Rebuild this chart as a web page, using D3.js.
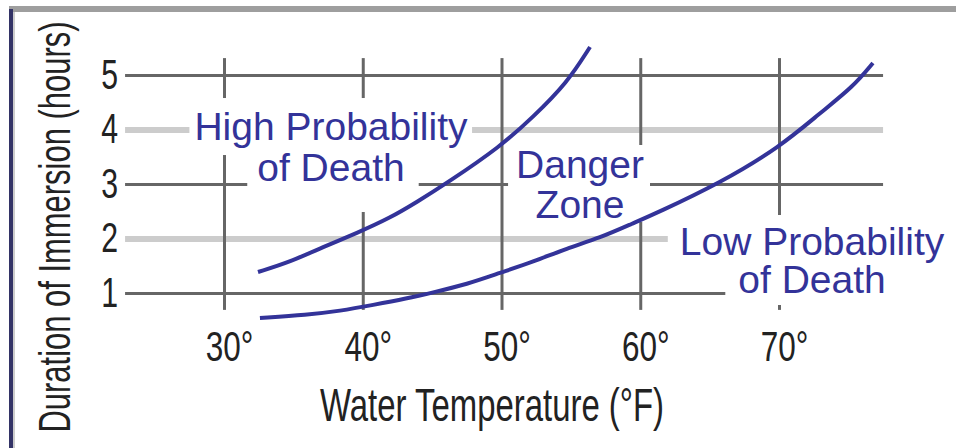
<!DOCTYPE html>
<meta charset="utf-8">
<script src="https://d3js.org/d3.v7.min.js"></script>
<style>
  body { margin: 0; background: #fff; }
  svg { display: block; font-family: "Liberation Sans", Arial, sans-serif; }
</style>
<div id="chart"></div>
<script>
  // values (temperature in °F, duration in hours)
  var xTicks = [30, 40, 50, 60, 70];
  var yTicks = [1, 2, 3, 4, 5];

  var highTemp = [32.45, 34.76, 37.14, 39.59, 41.96, 43.91, 46.07, 49.89, 52.27, 54.72, 56.38];
  var highHours = [1.385, 1.569, 1.844, 2.101, 2.376, 2.670, 3.018, 3.679, 4.229, 4.853, 5.514];

  var lowTemp = [32.59, 35.98, 38.36, 40.74, 43.19, 45.06, 47.51, 49.89, 52.27, 54.72, 57.09, 59.48, 61.21, 65.75, 70.07, 72.96, 75.33, 76.77];
  var lowHours = [0.541, 0.60, 0.67, 0.78, 0.90, 1.01, 1.16, 1.37, 1.57, 1.82, 2.01, 2.28, 2.47, 3.018, 3.679, 4.303, 4.780, 5.220];

  var width = 956, height = 448;
  var navy = "#333399";

  var svg = d3.select("#chart")
    .append("svg")
      .attr("width", width)
      .attr("height", height);

  var x = d3.scaleLinear().domain([30, 70]).range([224, 779]);
  var y = d3.scaleLinear().domain([1, 5]).range([293, 75]);

  // extent of the grid frame, in data units
  var tLeft = 22.87, tRight = 77.5, hBottom = 0.69, hTop = 5.31;

  // border
  svg.append("rect").attr("x", 9).attr("y", 6).attr("width", width - 9).attr("height", 6).attr("fill", "#9e9e9e");
  svg.append("rect").attr("x", 9).attr("y", 9).attr("width", 4).attr("height", height - 9).attr("fill", "#333366");
  svg.append("rect").attr("x", 13).attr("y", 12).attr("width", 2).attr("height", height - 12).attr("fill", "#cccccc");

  // squeeze text horizontally, the original uses a condensed face
  function condense(sel, k) {
    sel.each(function() {
      var w = this.getComputedTextLength();
      d3.select(this).attr("textLength", w * k).attr("lengthAdjust", "spacingAndGlyphs");
    });
  }

  // Y axis = horizontal grid lines
  var yAxis = svg.append("g")
    .attr("transform", "translate(" + x(tLeft) + ",0)")
    .call(d3.axisLeft(y)
      .tickValues(yTicks)
      .tickSize(-(x(tRight) - x(tLeft)))
      .tickPadding(7)
      .tickFormat(d3.format("d")));
  yAxis.select(".domain").remove();
  yAxis.selectAll(".tick line")
    .attr("stroke", function(d) { return d % 2 ? "#666666" : "#cccccc"; })
    .attr("stroke-width", function(d) { return d % 2 ? 3 : 6; });
  yAxis.selectAll(".tick text")
    .attr("font-family", "Liberation Sans, Arial, sans-serif")
    .attr("font-size", 42)
    .attr("fill", "#222")
    .call(condense, 0.72);

  // X axis = vertical grid lines
  var xAxis = svg.append("g")
    .attr("transform", "translate(0," + y(hBottom) + ")")
    .call(d3.axisBottom(x)
      .tickValues(xTicks)
      .tickSize(-(y(hBottom) - y(hTop)))
      .tickPadding(21)
      .tickFormat(function(d) { return d + "°"; }));
  xAxis.select(".domain").remove();
  xAxis.selectAll(".tick line")
    .attr("stroke", "#666666")
    .attr("stroke-width", 3);
  xAxis.selectAll(".tick text")
    .attr("font-family", "Liberation Sans, Arial, sans-serif")
    .attr("font-size", 42)
    .attr("fill", "#222")
    .attr("dx", 5)
    .call(condense, 0.75);

  // axis titles
  svg.append("text")
    .attr("x", 492)
    .attr("y", 421)
    .attr("text-anchor", "middle")
    .attr("font-size", 46)
    .attr("fill", "#222")
    .attr("textLength", 344)
    .attr("lengthAdjust", "spacingAndGlyphs")
    .text("Water Temperature (°F)");

  svg.append("text")
    .attr("transform", "translate(70,227) rotate(-90)")
    .attr("text-anchor", "middle")
    .attr("font-size", 44)
    .attr("fill", "#222")
    .attr("textLength", 411)
    .attr("lengthAdjust", "spacingAndGlyphs")
    .text("Duration of Immersion (hours)");

  // zone labels, each line sits on a white patch that cuts the grid
  // pad = [left, right, top, bottom]
  var labels = [
    {text: "High Probability", t: 37.71, h: 3.807, pad: [5, 4, 7, 7]},
    {text: "of Death", t: 37.71, h: 3.055, pad: [10, 14, 0, 23]},
    {text: "Danger", t: 55.66, h: 3.11, pad: [8, 6, -2, 14]},
    {text: "Zone", t: 55.66, h: 2.376, pad: [26, 24, 0, -4]},
    {text: "Low Probability", t: 72.38, h: 1.697, pad: [12, 6, 5, 0]},
    {text: "of Death", t: 72.38, h: 1.0, pad: [13, 10, -2, 4]}
  ];

  var boxG = svg.append("g");
  var textG = svg.append("g");
  labels.forEach(function(d) {
    var txt = textG.append("text")
      .attr("x", x(d.t))
      .attr("y", y(d.h))
      .attr("text-anchor", "middle")
      .attr("font-size", 39)
      .attr("fill", navy)
      .text(d.text);
    var b = txt.node().getBBox();
    boxG.append("rect")
      .attr("x", b.x - d.pad[0])
      .attr("y", b.y - d.pad[2])
      .attr("width", b.width + d.pad[0] + d.pad[1])
      .attr("height", b.height + d.pad[2] + d.pad[3])
      .attr("fill", "#fff");
  });

  // curves
  var line = d3.line()
    .x(function(d) { return x(d[0]); })
    .y(function(d) { return y(d[1]); })
    .curve(d3.curveBasis);

  var curves = [d3.zip(highTemp, highHours), d3.zip(lowTemp, lowHours)];

  svg.append("g")
    .selectAll("path")
    .data(curves)
    .enter()
    .append("path")
      .attr("d", line)
      .attr("fill", "none")
      .attr("stroke", navy)
      .attr("stroke-width", 4);
</script>
